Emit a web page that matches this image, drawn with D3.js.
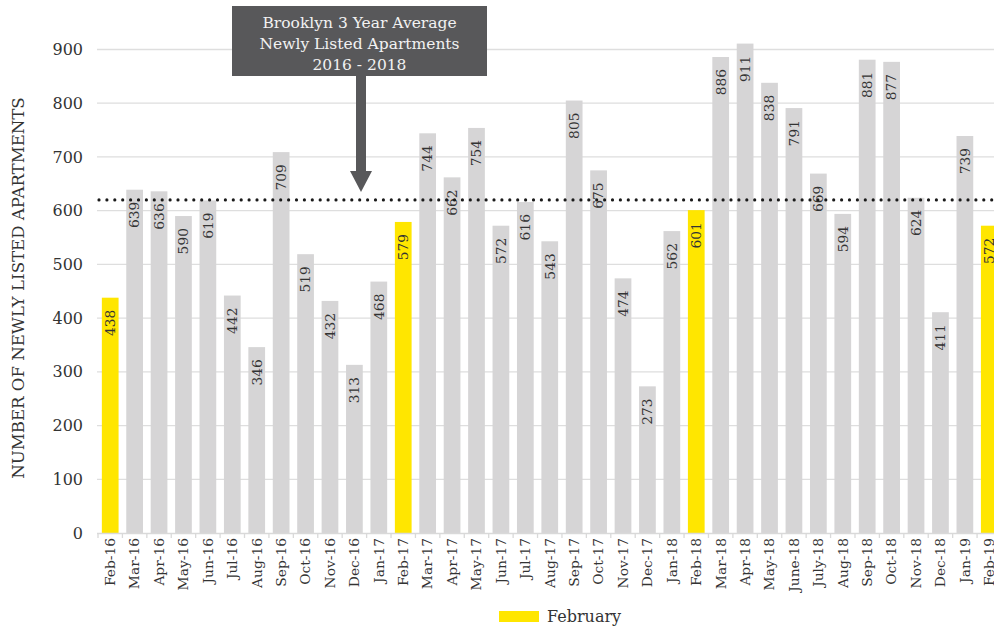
<!DOCTYPE html>
<html>
<head>
<meta charset="utf-8">
<script src="https://cdn.jsdelivr.net/npm/d3@7/dist/d3.min.js"></script>
<style>
  html, body { margin: 0; padding: 0; background: #fff; }
  svg { display: block; }
  text { font-family: "DejaVu Serif", Georgia, serif; }
</style>
</head>
<body>
<svg id="chart" width="994" height="626"></svg>
<script>
const months = ["Feb-16","Mar-16","Apr-16","May-16","Jun-16","Jul-16","Aug-16","Sep-16","Oct-16","Nov-16","Dec-16","Jan-17",
  "Feb-17","Mar-17","Apr-17","May-17","Jun-17","Jul-17","Aug-17","Sep-17","Oct-17","Nov-17","Dec-17","Jan-18",
  "Feb-18","Mar-18","Apr-18","May-18","June-18","July-18","Aug-18","Sep-18","Oct-18","Nov-18","Dec-18","Jan-19","Feb-19"];
const listings = [438,639,636,590,619,442,346,709,519,432,313,468,
  579,744,662,754,572,616,543,805,675,474,273,562,
  601,886,911,838,791,669,594,881,877,624,411,739,572];
const februaryMonths = ["Feb-16","Feb-17","Feb-18","Feb-19"];
const yTicks = [0,100,200,300,400,500,600,700,800,900];
const threeYearAverage = 620;
const annotationLines = ["Brooklyn 3 Year Average","Newly Listed Apartments","2016 - 2018"];
const yAxisTitle = "NUMBER OF NEWLY LISTED APARTMENTS";
const legendLabel = "February";

(function () {
const svg = d3.select("#chart");
const mLeft = 98, mRight = 1001.5, mTop = 49.5, mBottom = 533;

const x = d3.scaleBand().domain(months).range([mLeft, mRight]).paddingInner(0.315).paddingOuter(0.1575);
const y = d3.scaleLinear().domain([0, 900]).range([mBottom, mTop]);

// gridlines
svg.append("g").selectAll("line").data(yTicks.filter(d => d > 0)).join("line")
  .attr("x1", 97).attr("x2", 994)
  .attr("y1", d => y(d)).attr("y2", d => y(d))
  .attr("stroke", "#dedede").attr("stroke-width", 1.3);

// y tick labels
svg.append("g").selectAll("text").data(yTicks).join("text")
  .attr("x", 83).attr("y", d => y(d)).attr("dy", "0.35em")
  .attr("text-anchor", "end").attr("font-size", 16).attr("fill", "#333")
  .text(d => d);

// bars
svg.append("g").selectAll("rect").data(months).join("rect")
  .attr("x", d => x(d)).attr("width", x.bandwidth())
  .attr("y", (d, i) => y(listings[i])).attr("height", (d, i) => y(0) - y(listings[i]))
  .attr("fill", d => februaryMonths.includes(d) ? "#ffe600" : "#d6d5d6");

// x axis
const xAxis = d3.axisBottom(x).tickSize(0).tickFormat("");
const gx = svg.append("g").attr("transform", `translate(0,${mBottom})`).call(xAxis);
gx.select(".domain").attr("stroke", "#d9d9d9").attr("stroke-width", 1.3).attr("d", `M97,0.5H994`);
const step = x.step();
gx.selectAll(".sep").data(months).join("line").attr("class", "sep")
  .attr("x1", d => x(d) - (step - x.bandwidth()) / 2)
  .attr("x2", d => x(d) - (step - x.bandwidth()) / 2)
  .attr("y1", 0).attr("y2", 5).attr("stroke", "#d9d9d9").attr("stroke-width", 1.3);

// x labels
svg.append("g").selectAll("text").data(months).join("text")
  .attr("transform", d => `translate(${x(d) + x.bandwidth() / 2},${mBottom + 5}) rotate(-90)`)
  .attr("dy", "0.35em").attr("text-anchor", "end")
  .attr("font-size", 13.8).attr("fill", "#333")
  .text(d => d);

// bar value labels
svg.append("g").selectAll("text").data(months).join("text")
  .attr("transform", (d, i) => `translate(${x(d) + x.bandwidth() / 2},${y(listings[i]) + 12}) rotate(-90)`)
  .attr("dy", "0.35em").attr("text-anchor", "end")
  .attr("font-size", 13.8).attr("fill", "#333")
  .text((d, i) => listings[i]);

// average dotted line
svg.append("line")
  .attr("x1", 99).attr("x2", 994)
  .attr("y1", y(threeYearAverage)).attr("y2", y(threeYearAverage))
  .attr("stroke", "#1a1a1a").attr("stroke-width", 3.2)
  .attr("stroke-linecap", "round").attr("stroke-dasharray", "0 7.9");

// annotation box
const boxX = 232, boxW = 255, boxY = 6, boxH = 70;
const cx = boxX + boxW / 2;
svg.append("rect").attr("x", boxX).attr("y", boxY).attr("width", boxW).attr("height", boxH).attr("fill", "#58585a");
svg.append("g").selectAll("text").data(annotationLines).join("text")
  .attr("x", cx).attr("y", (d, i) => 28 + i * 21)
  .attr("text-anchor", "middle").attr("font-size", 15.5).attr("fill", "#f2f2f2")
  .text(d => d);
// arrow
svg.append("path")
  .attr("d", `M356,${boxY + boxH} V171 H350 L361,192 L372,171 H366 V${boxY + boxH} Z`)
  .attr("fill", "#58585a");

// y axis title
svg.append("text")
  .attr("transform", `translate(18,288) rotate(-90)`)
  .attr("dy", "0.35em").attr("text-anchor", "middle")
  .attr("font-size", 16.6).attr("fill", "#333")
  .text(yAxisTitle);

// legend
svg.append("rect").attr("x", 499).attr("y", 611).attr("width", 40).attr("height", 11).attr("fill", "#ffe600");
svg.append("text").attr("x", 547).attr("y", 622).attr("font-size", 16).attr("fill", "#333").text(legendLabel);
})();
</script>
</body>
</html>
